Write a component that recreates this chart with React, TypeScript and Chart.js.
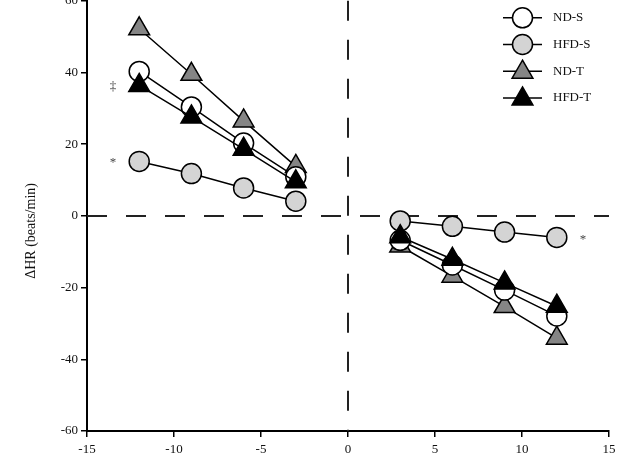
import React, { useEffect, useRef } from "react";
import { Chart, registerables } from "chart.js";

Chart.register(...registerables);

// ---- data ----
const xLeft = [-12, -9, -6, -3];
const xRight = [3, 6, 9, 12];
const seriesNames = ["ND-S", "HFD-S", "ND-T", "HFD-T"];
const ndS = [40.3, 30.4, 20.3, 10.9, -6.8, -13.7, -20.7, -27.9];
const hfdS = [15.2, 11.8, 7.8, 4.1, -1.4, -2.9, -4.5, -6.0];
const ndT = [52.2, 39.5, 26.5, 13.8, -8.4, -16.8, -25.3, -34.1];
const hfdT = [36.4, 27.6, 18.6, 9.5, -5.8, -12.1, -18.7, -25.2];
const xTickValues = [-15, -10, -5, 0, 5, 10, 15];
const yTickValues = [-60, -40, -20, 0, 20, 40, 60];
const annoText = ["‡", "*", "*"];
const annoX = [-13.5, -13.5, 13.5];
const annoY = [36.1, 15.0, -6.5];
const yTitle = "ΔHR (beats/min)";

const FONT = "'Liberation Serif', 'Times New Roman', serif";
const SHIFT = 10;

const styles: Record<string, { shape: string; fill: string; r: number }> = {
  "ND-S": { shape: "circle", fill: "#ffffff", r: 10 },
  "HFD-S": { shape: "circle", fill: "#d4d4d4", r: 10 },
  "ND-T": { shape: "triangle", fill: "#858585", r: 12 },
  "HFD-T": { shape: "triangle", fill: "#000000", r: 12 },
};

const valuesByName: Record<string, number[]> = {
  "ND-S": ndS,
  "HFD-S": hfdS,
  "ND-T": ndT,
  "HFD-T": hfdT,
};

function buildPoints(vals: number[]) {
  const pts: { x: number; y: number | null }[] = [];
  xLeft.forEach((x, i) => pts.push({ x, y: vals[i] }));
  pts.push({ x: 0, y: null });
  xRight.forEach((x, i) => pts.push({ x, y: vals[xLeft.length + i] }));
  return pts;
}

function drawMarker(ctx: CanvasRenderingContext2D, shape: string, x: number, y: number, r: number, fill: string) {
  ctx.save();
  ctx.beginPath();
  if (shape === "circle") {
    ctx.arc(x, y, r, 0, Math.PI * 2);
  } else {
    const a = (2 * Math.PI) / 3;
    ctx.moveTo(x, y - r);
    ctx.lineTo(x + Math.sin(a) * r, y - Math.cos(a) * r);
    ctx.lineTo(x + Math.sin(2 * a) * r, y - Math.cos(2 * a) * r);
    ctx.closePath();
  }
  ctx.fillStyle = fill;
  ctx.fill();
  ctx.lineWidth = 1.5;
  ctx.strokeStyle = "#000";
  ctx.stroke();
  ctx.restore();
}

const overlayPlugin = {
  id: "overlay",
  beforeDatasetsDraw(chart: any) {
    const ctx = chart.ctx as CanvasRenderingContext2D;
    const xs = chart.scales.x;
    const ys = chart.scales.y;
    const area = chart.chartArea;
    ctx.save();
    ctx.strokeStyle = "#222";
    ctx.lineWidth = 2;
    ctx.setLineDash([20, 19]);
    const y0 = ys.getPixelForValue(0);
    ctx.beginPath();
    ctx.moveTo(area.left, y0);
    ctx.lineTo(area.right, y0);
    ctx.stroke();
    const x0 = xs.getPixelForValue(0);
    ctx.beginPath();
    ctx.moveTo(x0, area.top);
    ctx.lineTo(x0, area.bottom);
    ctx.stroke();
    ctx.restore();
  },
  afterDraw(chart: any) {
    const ctx = chart.ctx as CanvasRenderingContext2D;
    const xs = chart.scales.x;
    const ys = chart.scales.y;
    const area = chart.chartArea;
    ctx.save();
    ctx.fillStyle = "#444";
    ctx.font = `13px ${FONT}`;
    ctx.textAlign = "center";
    ctx.textBaseline = "middle";
    annoText.forEach((t, i) => {
      ctx.fillText(t, xs.getPixelForValue(annoX[i]), ys.getPixelForValue(annoY[i]));
    });
    ctx.restore();

    ctx.save();
    ctx.translate(31, (area.top + area.bottom) / 2 + 15);
    ctx.rotate(-Math.PI / 2);
    ctx.fillStyle = "#111";
    ctx.font = `14px ${FONT}`;
    ctx.textAlign = "center";
    ctx.textBaseline = "middle";
    ctx.fillText(yTitle, 0, 0);
    ctx.restore();

    const lx0 = area.right - 106;
    const lx1 = area.right - 67;
    const mx = (lx0 + lx1) / 2;
    const tx = area.right - 56;
    const top = area.top + 17;
    const step = 26.7;
    seriesNames.forEach((name, i) => {
      const y = top + i * step;
      const st = styles[name];
      ctx.save();
      ctx.strokeStyle = "#000";
      ctx.lineWidth = 1.5;
      ctx.beginPath();
      ctx.moveTo(lx0, y);
      ctx.lineTo(lx1, y);
      ctx.stroke();
      ctx.restore();
      const yy = st.shape === "triangle" ? y + 1 : y;
      drawMarker(ctx, st.shape, mx, yy, st.r, st.fill);
      ctx.save();
      ctx.fillStyle = "#111";
      ctx.font = `13px ${FONT}`;
      ctx.textAlign = "left";
      ctx.textBaseline = "middle";
      ctx.fillText(name, tx, y);
      ctx.restore();
    });
  },
};

export default function App() {
  const canvasRef = useRef<HTMLCanvasElement | null>(null);

  useEffect(() => {
    if (!canvasRef.current) return;
    const drawOrder = ["HFD-T", "ND-S", "ND-T", "HFD-S"];
    const datasets = drawOrder.map((name) => {
      const st = styles[name];
      return {
        label: name,
        data: buildPoints(valuesByName[name]),
        showLine: true,
        spanGaps: false,
        borderColor: "#000",
        borderWidth: 1.5,
        backgroundColor: st.fill,
        pointStyle: st.shape,
        pointRadius: st.r,
        pointHoverRadius: st.r,
        pointBackgroundColor: st.fill,
        pointBorderColor: "#000",
        pointBorderWidth: 1.5,
        fill: false,
        tension: 0,
      };
    });

    const tickFont = { family: FONT, size: 13 };
    const chart = new Chart(canvasRef.current, {
      type: "scatter",
      data: { datasets } as any,
      plugins: [overlayPlugin],
      options: {
        animation: false,
        responsive: false,
        layout: { autoPadding: false, padding: { left: 0, right: 13, top: 0, bottom: 0 } } as any,
        plugins: { legend: { display: false }, tooltip: { enabled: false } },
        scales: {
          x: {
            type: "linear",
            min: -15,
            max: 15,
            afterBuildTicks: (s: any) => {
              s.ticks = xTickValues.map((v) => ({ value: v }));
            },
            afterFit: (s: any) => {
              s.height = 37;
            },
            ticks: { font: tickFont, color: "#111", padding: 5 },
            grid: { drawOnChartArea: false, drawTicks: true, tickLength: 6, color: "#000", lineWidth: 1.5 },
            border: { color: "#000", width: 2 },
          },
          y: {
            type: "linear",
            min: -60,
            max: 60,
            afterBuildTicks: (s: any) => {
              s.ticks = yTickValues.map((v) => ({ value: v }));
            },
            afterFit: (s: any) => {
              s.width = 87;
            },
            ticks: { font: tickFont, color: "#111", padding: 3 },
            grid: { drawOnChartArea: false, drawTicks: true, tickLength: 6, color: "#000", lineWidth: 1.5 },
            border: { color: "#000", width: 2 },
          },
        },
      } as any,
    });
    return () => chart.destroy();
  }, []);

  return (
    <div style={{ position: "absolute", left: 0, top: 0, width: 622, height: 468, overflow: "hidden", background: "#fff" }}>
      <canvas
        ref={canvasRef}
        width={622}
        height={468 + SHIFT}
        style={{ position: "absolute", left: 0, top: -SHIFT, width: 622, height: 468 + SHIFT, display: "block" }}
      />
    </div>
  );
}
